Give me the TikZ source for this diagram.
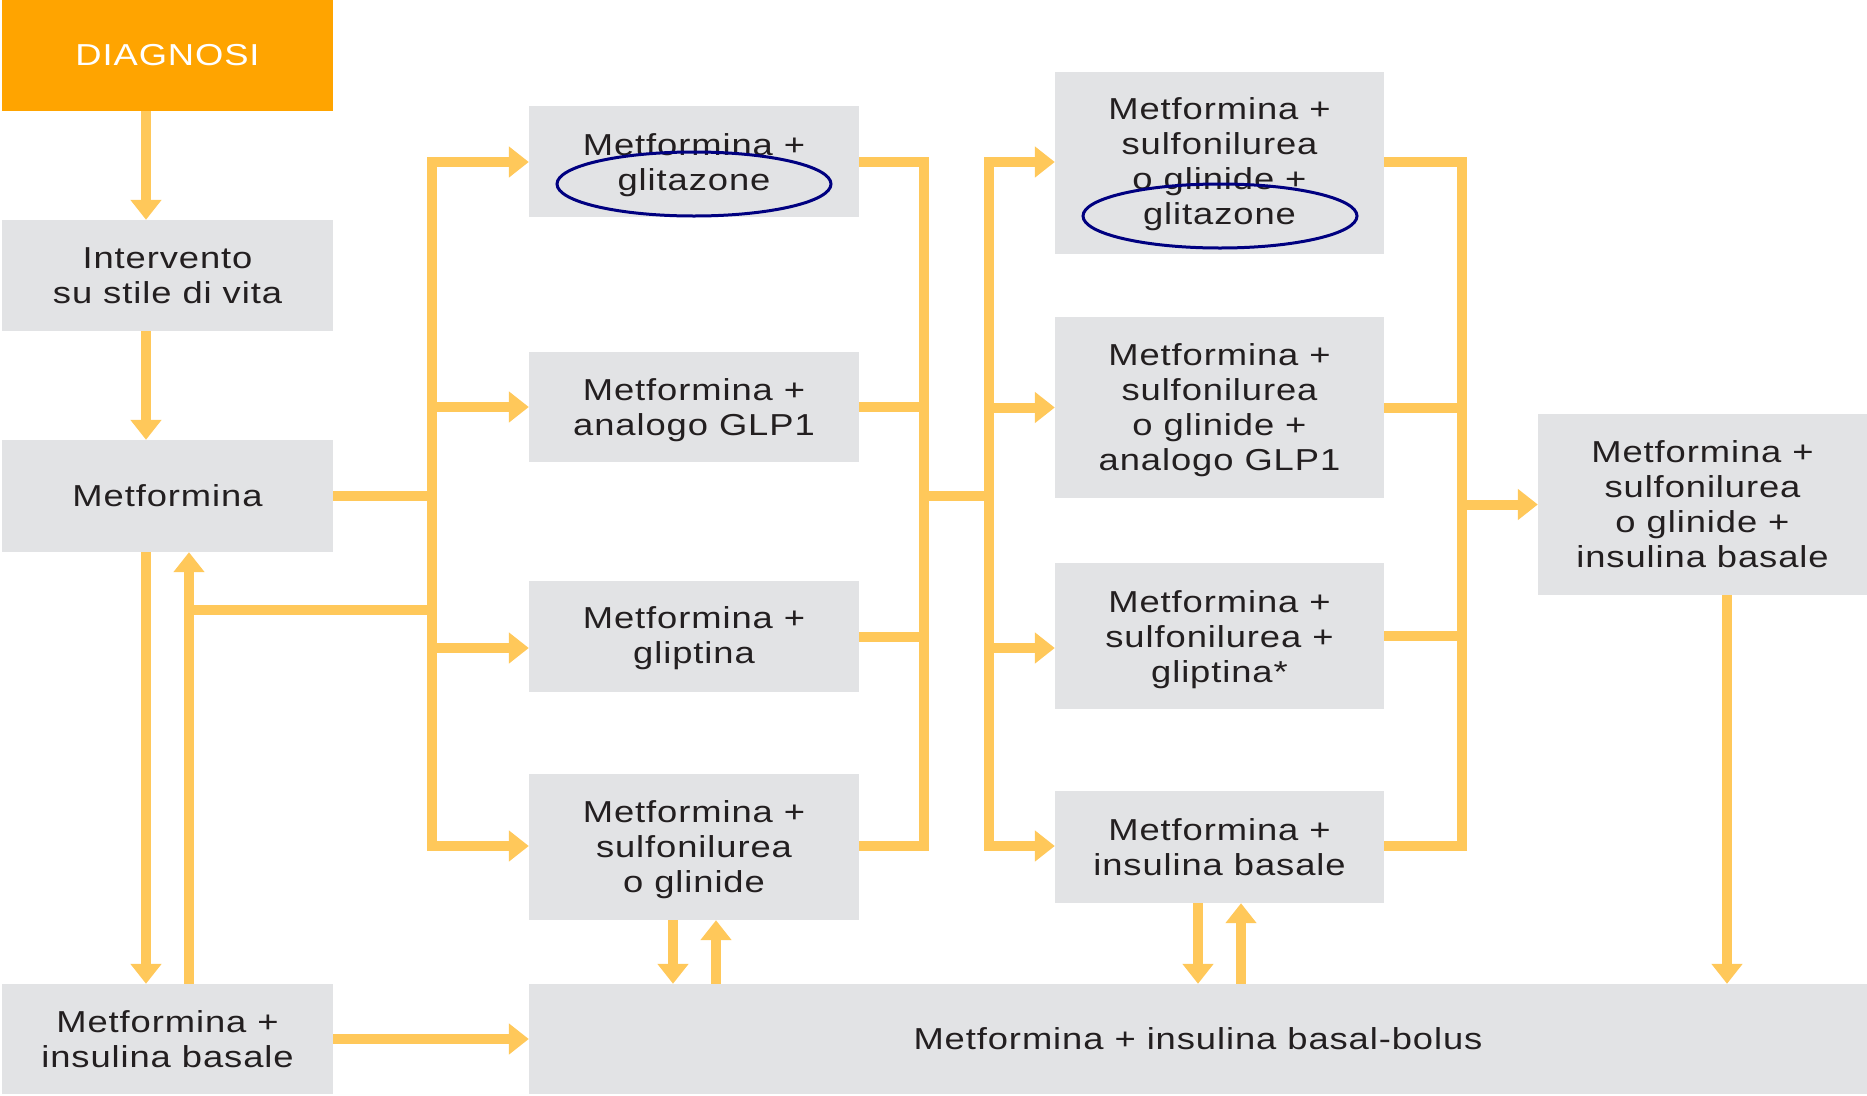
\documentclass[tikz,border=0pt]{standalone}
\usepackage{fontspec}
\setmainfont{Liberation Sans}[FakeStretch=1.2,LetterSpace=3]
\usetikzlibrary{arrows.meta,calc}
\definecolor{orangebox}{HTML}{FFA400}
\definecolor{arrowc}{HTML}{FFC85A}
\definecolor{graybox}{HTML}{E2E3E5}
\definecolor{textc}{HTML}{231F20}
\definecolor{navyring}{HTML}{000080}
\newcommand{\topstrut}[1]{\rule{0pt}{#1}}
\begin{document}
\begin{tikzpicture}[x=1pt,y=-1pt,
  box/.style={fill=graybox, text=textc, align=center, inner sep=0pt,
    font=\fontsize{30.3}{35}\selectfont},
  conn/.style={draw=arrowc, line width=10pt},
  arr/.style={conn, -{Triangle[width=30pt,length=20pt]}},
  ring/.style={draw=navyring, line width=3pt}
]
\useasboundingbox (0,0) rectangle (1867,1095);
\fill[white] (0,0) rectangle (1867,1095);

% column 1
\node[box, fill=orangebox, text=white, minimum width=331pt, minimum height=111pt] (diag) at (167.5,55.5) {DIAGNOSI};
\node[box, minimum width=331pt, minimum height=111pt] (interv) at (167.5,275.5) {Intervento\\su stile di vita};
\node[box, minimum width=331pt, minimum height=112pt] (metf) at (167.5,496) {Metformina};
\node[box, minimum width=331pt, minimum height=110pt] (mib) at (167.5,1039) {Metformina +\\insulina basale};

% column 2
\node[box, minimum width=330pt, minimum height=111pt] (c2a) at (694,161.5) {\topstrut{29.5pt}Metformina +\\glitazone};
\node[box, minimum width=330pt, minimum height=110pt] (c2b) at (694,407) {\topstrut{27.5pt}Metformina +\\analogo GLP1};
\node[box, minimum width=330pt, minimum height=111pt] (c2c) at (694,636.5) {\topstrut{26pt}Metformina +\\gliptina};
\node[box, minimum width=330pt, minimum height=146pt] (c2d) at (694,847) {\topstrut{28pt}Metformina +\\sulfonilurea\\o glinide};

% column 3
\node[box, minimum width=329pt, minimum height=182pt] (c3a) at (1219.5,163) {\topstrut{24.5pt}Metformina +\\sulfonilurea\\o glinide +\\glitazone};
\node[box, minimum width=329pt, minimum height=181pt] (c3b) at (1219.5,407.5) {\topstrut{28pt}Metformina +\\sulfonilurea\\o glinide +\\analogo GLP1};
\node[box, minimum width=329pt, minimum height=146pt] (c3c) at (1219.5,636) {\topstrut{30pt}Metformina +\\sulfonilurea +\\gliptina*};
\node[box, minimum width=329pt, minimum height=112pt] (c3d) at (1219.5,847) {Metformina +\\insulina basale};

% column 4
\node[box, minimum width=329pt, minimum height=181pt] (c4) at (1702.5,504.5) {Metformina +\\sulfonilurea\\o glinide +\\insulina basale};

% bottom
\node[box, minimum width=1338pt, minimum height=110pt] (bolus) at (1198,1039) {Metformina + insulina basal-bolus};

% helper coordinates
\coordinate (vx1) at (146,0);
\coordinate (vx2) at (189,0);
\coordinate (t1) at (432,0);
\coordinate (m2) at (924,0);
\coordinate (t2) at (989,0);
\coordinate (m3) at (1462,0);
\coordinate (ytop) at (0,162);
\coordinate (ybot) at (0,846);
\coordinate (ylow) at (0,648);
\coordinate (yret) at (0,610);
\coordinate (ymid) at (0,496);
\coordinate (b1) at (673,0);
\coordinate (b2) at (716,0);
\coordinate (b3) at (1198,0);
\coordinate (b4) at (1241,0);
\coordinate (b5) at (1727,0);

% left column arrows
\draw[arr] (diag.south -| vx1) -- (interv.north -| vx1);
\draw[arr] (interv.south -| vx1) -- (metf.north -| vx1);
\draw[arr] (metf.south -| vx1) -- (mib.north -| vx1);
\draw[arr] (mib.north -| vx2) -- (metf.south -| vx2);

% trunk 1
\draw[conn] (metf.east) -- (metf.east -| t1);
\draw[arr] (t1 |- ybot) -- (t1 |- ytop) -- (c2a.west |- ytop);
\draw[arr] (t1 |- ytop) -- (t1 |- ybot) -- (c2d.west |- ybot);
\draw[arr] (t1 |- c2b.west) -- (c2b.west);
\draw[arr] (t1 |- ylow) -- (c2c.west |- ylow);
\draw[conn] (t1 |- yret) -- (vx2 |- yret);

% merge 2 and trunk 2
\draw[conn] (c2a.east |- ytop) -- (m2 |- ytop) -- (m2 |- ybot) -- (c2d.east |- ybot);
\draw[conn] (c2b.east) -- (c2b.east -| m2);
\draw[conn] (c2c.east) -- (c2c.east -| m2);
\draw[conn] (m2 |- ymid) -- (t2 |- ymid);
\draw[arr] (t2 |- ybot) -- (t2 |- ytop) -- (c3a.west |- ytop);
\draw[arr] (t2 |- ytop) -- (t2 |- ybot) -- (c3d.west |- ybot);
\draw[arr] (t2 |- c3b.west) -- (c3b.west);
\draw[arr] (t2 |- ylow) -- (c3c.west |- ylow);

% merge 3
\draw[conn] (c3a.east |- ytop) -- (m3 |- ytop) -- (m3 |- ybot) -- (c3d.east |- ybot);
\draw[conn] (c3b.east) -- (c3b.east -| m3);
\draw[conn] (c3c.east) -- (c3c.east -| m3);
\draw[arr] (m3 |- c4.west) -- (c4.west);

% bottom arrows
\draw[arr] (c2d.south -| b1) -- (bolus.north -| b1);
\draw[arr] (bolus.north -| b2) -- (c2d.south -| b2);
\draw[arr] (c3d.south -| b3) -- (bolus.north -| b3);
\draw[arr] (bolus.north -| b4) -- (c3d.south -| b4);
\draw[arr] (c4.south -| b5) -- (bolus.north -| b5);
\draw[arr] (mib.east) -- (bolus.west);

% highlight rings
\draw[ring] (694,184) ellipse [x radius=137, y radius=32];
\draw[ring] (1220,216) ellipse [x radius=137, y radius=32];
\end{tikzpicture}
\end{document}
